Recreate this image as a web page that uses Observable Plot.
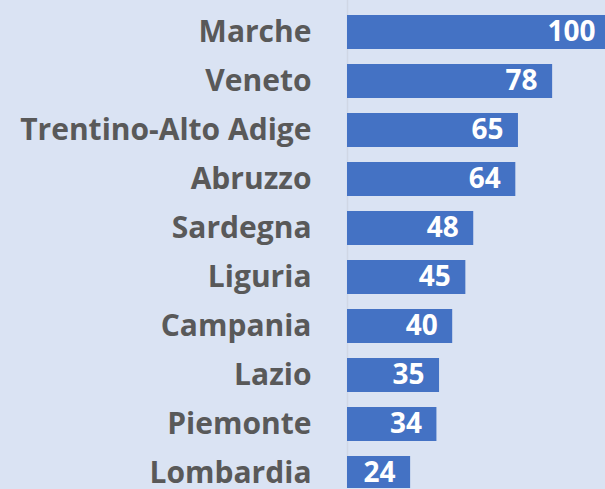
<!DOCTYPE html>
<html><head><meta charset="utf-8">
<script src="https://cdn.jsdelivr.net/npm/d3@7"></script>
<script src="https://cdn.jsdelivr.net/npm/@observablehq/plot@0.6"></script>
<style>
html,body{margin:0;padding:0;background:#dae3f3;overflow:hidden;}
</style></head>
<body><div id="chart"></div>
<script>
const regions = ["Marche","Veneto","Trentino-Alto Adige","Abruzzo","Sardegna","Liguria","Campania","Lazio","Piemonte","Lombardia"];
const values = [100,78,65,64,48,45,40,35,34,24];
const data = regions.map((r,i)=>({region:r, value:values[i]}));
const font = "'Open Sans', sans-serif";
const chart = Plot.plot({
  width: 605, height: 489,
  marginLeft: 347, marginRight: 0,
  style: {background: "#dae3f3", fontFamily: font, overflow: "hidden"},
  x: {domain: [0, 98.1], range: [347, 605], axis: null},
  y: {domain: regions, range: [5.25, 500.25], paddingInner: 0.31, paddingOuter: 0.155, axis: null},
  marks: [
    Plot.ruleX([0], {stroke: "#d0d7e5", strokeWidth: 1.5}),
    Plot.barX(data, {y: "region", x: "value", fill: "#4472c4", clip: true}),
    Plot.text(data, {y: "region", x: 0, text: "region", textAnchor: "end", dx: -36, fill: "#595959", fontSize: 30, fontWeight: "bold"}),
    Plot.text(data, {y: "region", x: "value", text: d => String(d.value), textAnchor: "end", dx: -15, fill: "white", fontSize: 28, fontWeight: "bold"})
  ]
});
document.getElementById("chart").appendChild(chart);
</script></body></html>
